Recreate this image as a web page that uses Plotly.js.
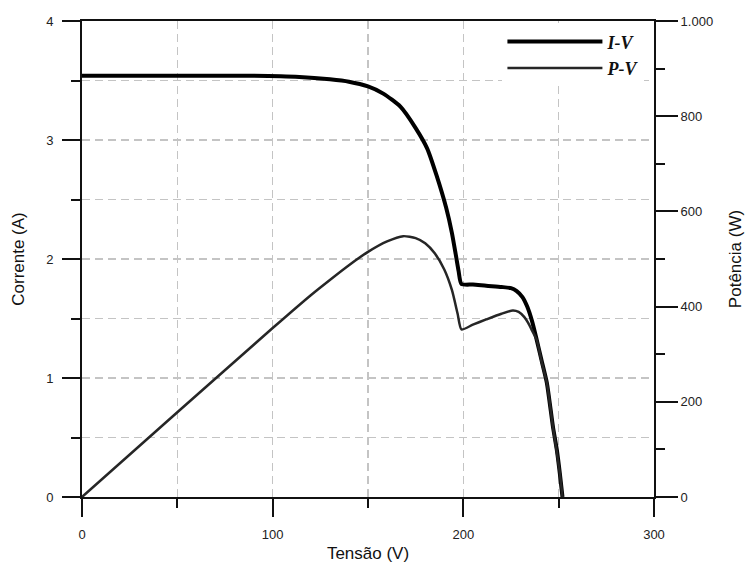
<!DOCTYPE html>
<html>
<head>
<meta charset="utf-8">
<script src="https://cdn.plot.ly/plotly-3.0.1.min.js"></script>
<style>html,body{margin:0;padding:0;background:#fff;}#chart{width:745px;height:568px;}</style>
</head>
<body>
<div id="chart"></div>
<script>
// I-V curve (Tensão V, Corrente A)
const vIV = [0, 20, 50, 88, 114, 130, 140, 150, 158, 167, 175, 181, 186, 191, 194, 196, 197.5, 199, 205, 212, 220, 225, 228, 231, 233.5, 236, 238.5, 241, 243.8, 247, 249, 250.6, 252];
const iIV = [3.54, 3.54, 3.54, 3.54, 3.53, 3.51, 3.49, 3.45, 3.39, 3.28, 3.10, 2.93, 2.70, 2.43, 2.22, 2.04, 1.90, 1.79, 1.785, 1.775, 1.765, 1.755, 1.73, 1.68, 1.60, 1.48, 1.32, 1.15, 0.96, 0.59, 0.40, 0.20, 0];
// P-V curve (Tensão V, Potência W)
const vPV = [0, 50, 100, 120, 130, 140, 150, 160, 168.5, 175, 180, 185, 190, 194, 197, 199, 205, 212, 220, 226, 229, 232, 234, 236, 238.5, 241, 243.8, 247, 249, 250.6, 252];
const pPV = [0, 178, 355, 424, 456, 487, 515, 537, 548, 544, 533, 512, 478, 435, 385, 352, 362, 373, 385, 392, 389, 378, 366, 350, 330, 285, 240, 147, 95, 50, 0];

const xTicks = [0, 100, 200, 300];
const yTicks = [0, 1, 2, 3, 4];
const y2Ticks = [0, 200, 400, 600, 800, 1000];
const y2TickText = ['0', '200', '400', '600', '800', '1.000'];
const seriesNames = ['I-V', 'P-V'];

const tickFont = {family: 'Liberation Sans, Arial, sans-serif', size: 13, color: '#222'};
const titleFont = {family: 'Liberation Sans, Arial, sans-serif', size: 17, color: '#111'};
const gridCol = '#c4c4c4';
const dash = '8px,5px';

const traces = [
  {x: vIV, y: iIV, name: seriesNames[0], mode: 'lines', line: {color: '#000', width: 4, shape: 'spline', smoothing: 0.6}, xaxis: 'x', yaxis: 'y'},
  {x: vPV, y: pPV, name: seriesNames[1], mode: 'lines', line: {color: '#262626', width: 2.5, shape: 'spline', smoothing: 0.6}, xaxis: 'x', yaxis: 'y2'}
];

const layout = {
  width: 745, height: 568,
  margin: {l: 82, r: 91, t: 21, b: 71},
  paper_bgcolor: '#fff', plot_bgcolor: '#fff',
  showlegend: true,
  legend: {
    x: 0.735, y: 0.995, xanchor: 'left', yanchor: 'top',
    bgcolor: '#fff', borderwidth: 0,
    font: {family: 'Liberation Serif, Times New Roman, serif', size: 18, color: '#111', style: 'italic', weight: 'bold'},
    itemwidth: 95, tracegroupgap: 0
  },
  xaxis: {
    range: [0, 300], tickvals: xTicks, ticks: 'outside', ticklen: 18, tickwidth: 2, tickcolor: '#111',
    showline: true, linecolor: '#111', linewidth: 2, mirror: true, zeroline: false,
    showgrid: true, gridcolor: gridCol, gridwidth: 1.5, griddash: dash,
    minor: {dtick: 50, ticks: 'outside', ticklen: 9, tickwidth: 2, tickcolor: '#111', showgrid: true, gridcolor: gridCol, gridwidth: 1.5, griddash: dash},
    tickfont: tickFont, ticklabelstandoff: 6,
    title: {text: 'Tensão (V)', font: titleFont, standoff: 7}
  },
  yaxis: {
    range: [0, 4], tickvals: yTicks, ticks: 'outside', ticklen: 18, tickwidth: 2, tickcolor: '#111',
    showline: true, linecolor: '#111', linewidth: 2, zeroline: false,
    showgrid: true, gridcolor: gridCol, gridwidth: 1.5, griddash: dash,
    minor: {dtick: 0.5, ticks: 'outside', ticklen: 9, tickwidth: 2, tickcolor: '#111', showgrid: true, gridcolor: gridCol, gridwidth: 1.5, griddash: dash},
    tickfont: tickFont, ticklabelstandoff: 6,
    title: {text: 'Corrente (A)', font: titleFont, standoff: 17}
  },
  yaxis2: {
    overlaying: 'y', side: 'right', range: [0, 1000],
    tickvals: y2Ticks, ticktext: y2TickText, ticks: 'outside', ticklen: 22, tickwidth: 2, tickcolor: '#111',
    showline: true, linecolor: '#111', linewidth: 2, zeroline: false, showgrid: false,
    minor: {dtick: 100, ticks: 'outside', ticklen: 9, tickwidth: 2, tickcolor: '#111', showgrid: false},
    tickfont: tickFont,
    title: {text: 'Potência (W)', font: titleFont, standoff: 19}
  }
};

Plotly.newPlot('chart', traces, layout, {displayModeBar: false, staticPlot: true});
</script>
</body>
</html>
